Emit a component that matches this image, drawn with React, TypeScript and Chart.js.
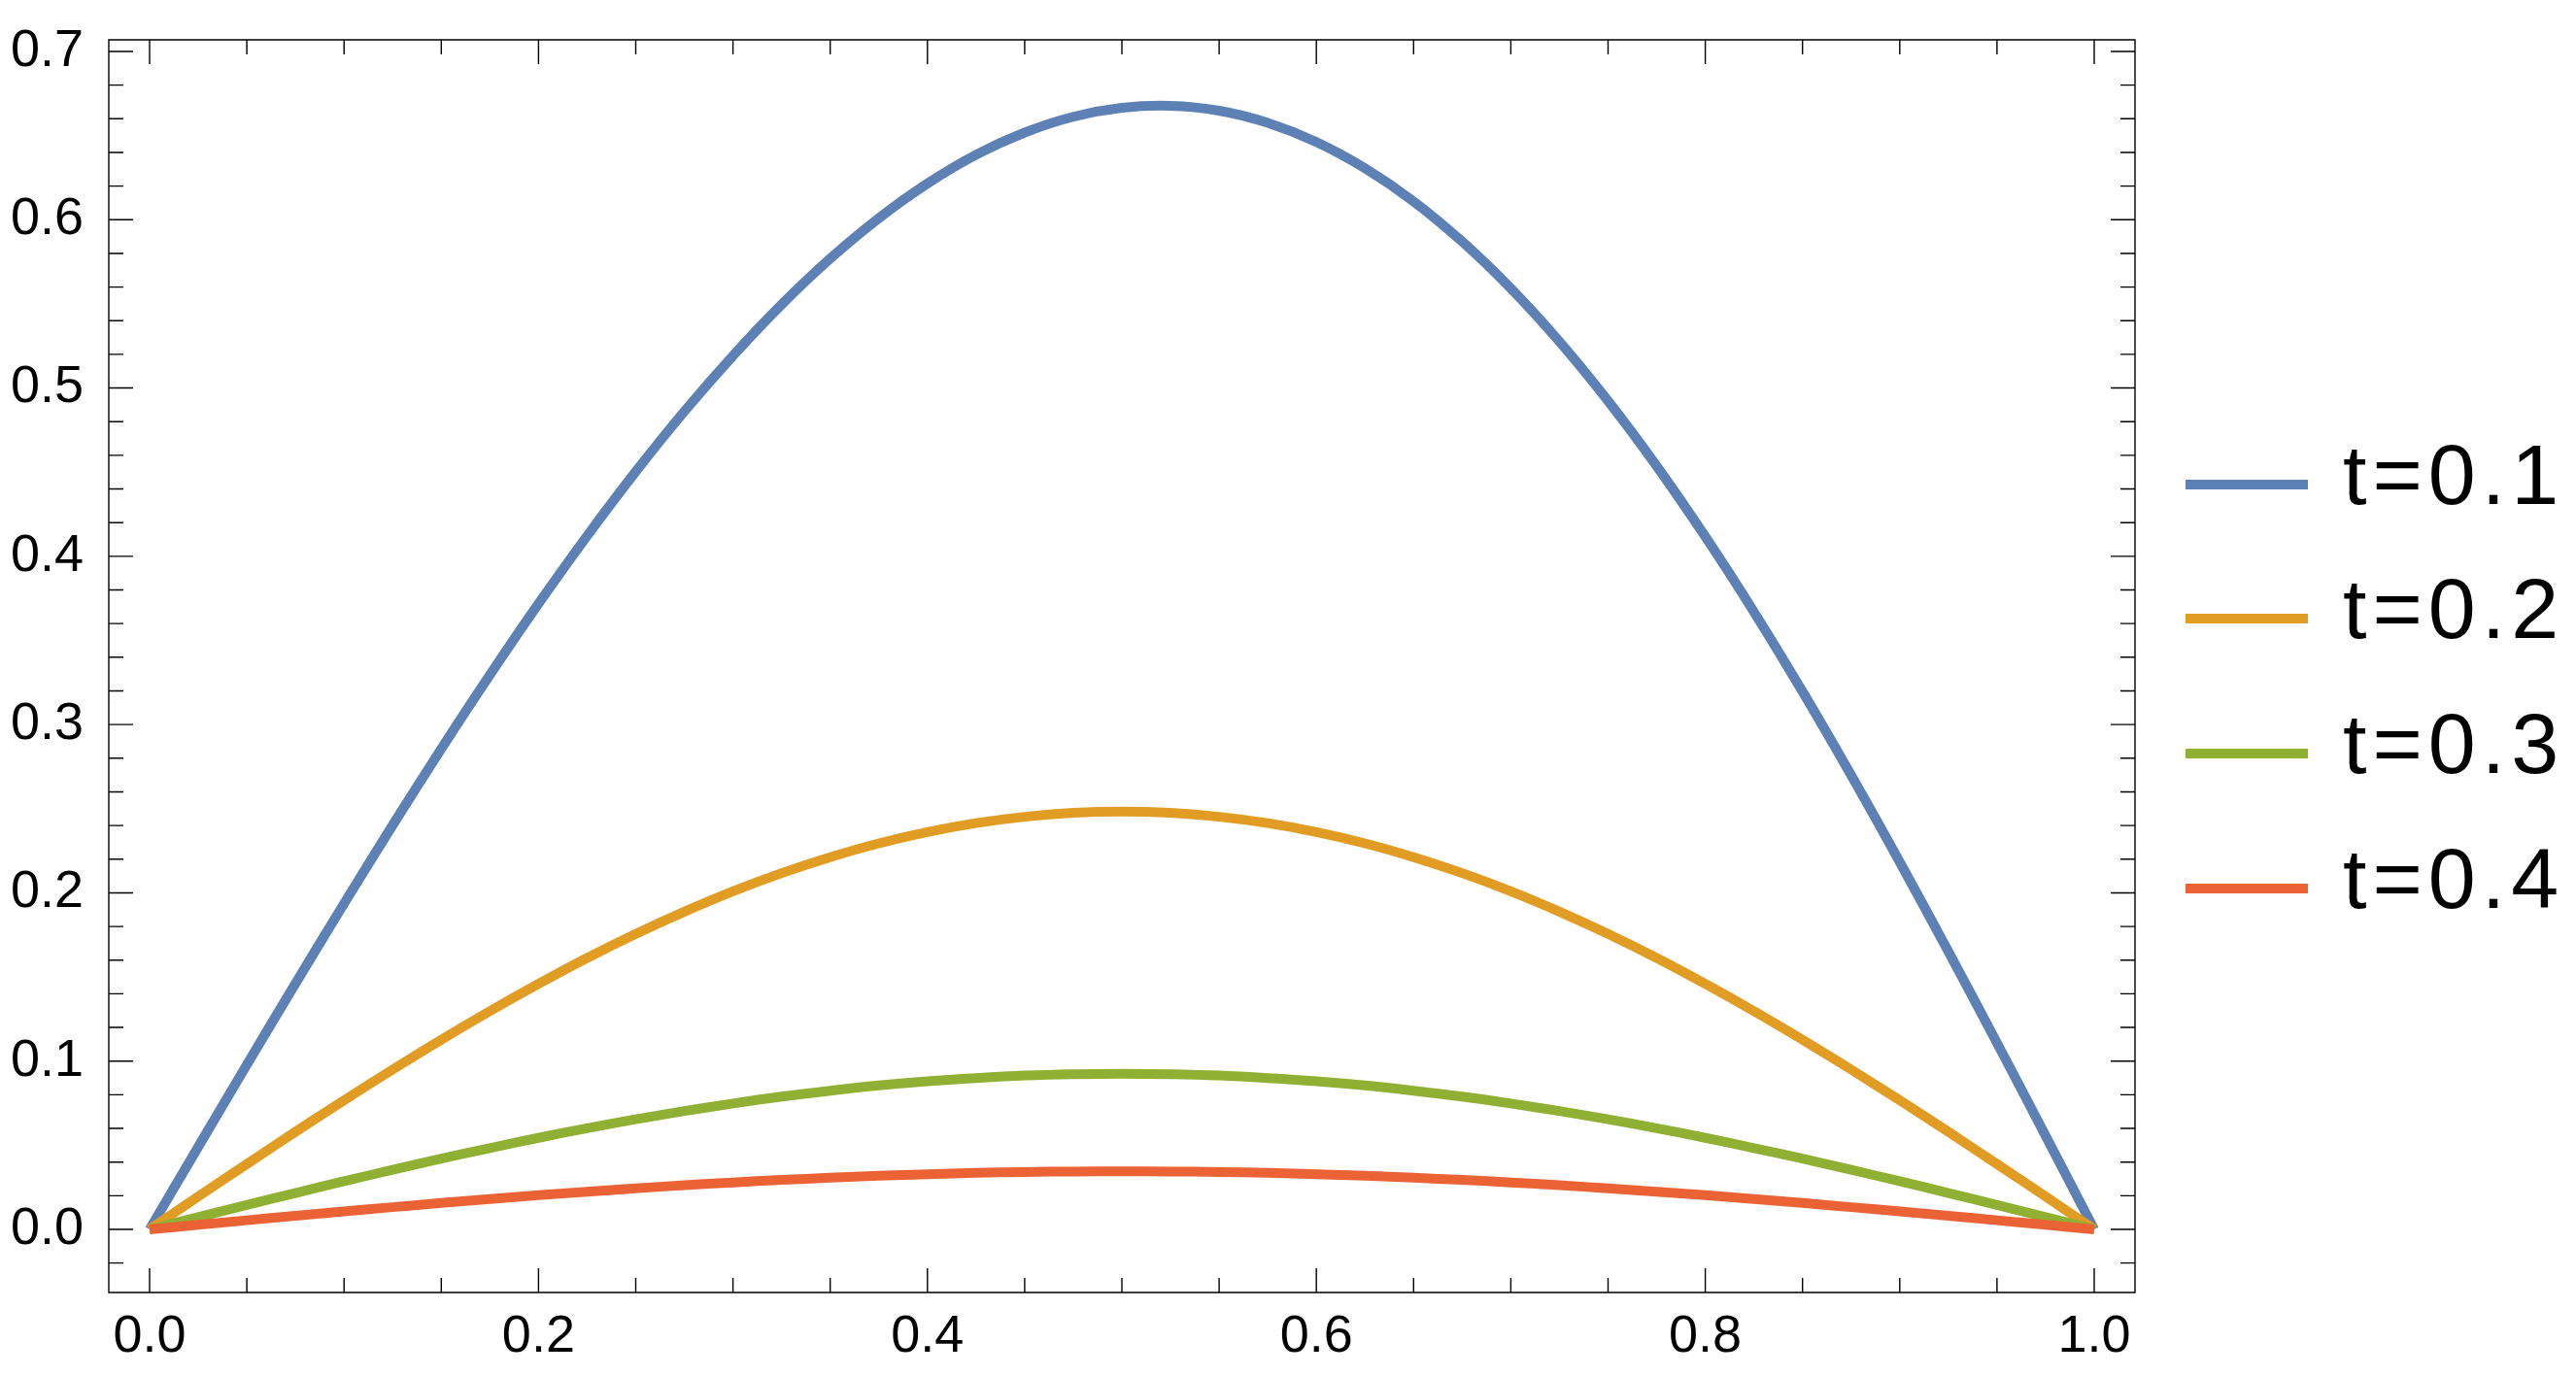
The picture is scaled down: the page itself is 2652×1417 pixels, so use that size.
import React, { useEffect, useRef } from 'react';
import { Chart, registerables } from 'chart.js';

Chart.register(...registerables);

const xValues = [
  0, 0.025, 0.05, 0.075, 0.1, 0.125, 0.15, 0.175, 0.2, 0.225, 0.25, 0.275, 0.3, 0.325, 0.35, 0.375, 0.4,
  0.425, 0.45, 0.475, 0.5, 0.525, 0.55, 0.575, 0.6, 0.625, 0.65, 0.675, 0.7, 0.725, 0.75, 0.775, 0.8,
  0.825, 0.85, 0.875, 0.9, 0.925, 0.95, 0.975, 1,
];

const seriesT01 = [
  0, 0.049, 0.0978, 0.1461, 0.1936, 0.2402, 0.2856, 0.3295, 0.3718, 0.4121, 0.4503, 0.4861, 0.5192,
  0.5496, 0.5769, 0.6009, 0.6215, 0.6386, 0.6518, 0.6612, 0.6665, 0.6677, 0.6648, 0.6576, 0.6462,
  0.6306, 0.6109, 0.587, 0.5592, 0.5276, 0.4923, 0.4536, 0.4117, 0.367, 0.3196, 0.2699, 0.2183,
  0.1651, 0.1108, 0.0556, 0,
];

const seriesT02 = [
  0, 0.0195, 0.0388, 0.058, 0.0767, 0.095, 0.1127, 0.1297, 0.1459, 0.1613, 0.1756, 0.1888, 0.2009,
  0.2117, 0.2212, 0.2294, 0.2361, 0.2414, 0.2452, 0.2475, 0.2483, 0.2475, 0.2452, 0.2414, 0.2361,
  0.2294, 0.2212, 0.2117, 0.2009, 0.1888, 0.1756, 0.1613, 0.1459, 0.1297, 0.1127, 0.095, 0.0767,
  0.058, 0.0388, 0.0195, 0,
];

const seriesT03 = [
  0, 0.0073, 0.0145, 0.0216, 0.0286, 0.0354, 0.042, 0.0483, 0.0544, 0.0601, 0.0654, 0.0703, 0.0748,
  0.0789, 0.0824, 0.0855, 0.088, 0.0899, 0.0914, 0.0922, 0.0925, 0.0922, 0.0914, 0.0899, 0.088,
  0.0855, 0.0824, 0.0789, 0.0748, 0.0703, 0.0654, 0.0601, 0.0544, 0.0483, 0.042, 0.0354, 0.0286,
  0.0216, 0.0145, 0.0073, 0,
];

const seriesT04 = [
  0, 0.0027, 0.0054, 0.0081, 0.0107, 0.0132, 0.0157, 0.018, 0.0203, 0.0224, 0.0244, 0.0262, 0.0279,
  0.0294, 0.0307, 0.0319, 0.0328, 0.0336, 0.0341, 0.0344, 0.0345, 0.0344, 0.0341, 0.0336, 0.0328,
  0.0319, 0.0307, 0.0294, 0.0279, 0.0262, 0.0244, 0.0224, 0.0203, 0.018, 0.0157, 0.0132, 0.0107,
  0.0081, 0.0054, 0.0027, 0,
];

const seriesLabels = ['t=0.1', 't=0.2', 't=0.3', 't=0.4'];
const seriesColors = ['#5E81B5', '#E19C24', '#8FB032', '#EB6235'];

const xMajorTicks = [0, 0.2, 0.4, 0.6, 0.8, 1.0];
const xMinorTicks = [0.05, 0.1, 0.15, 0.25, 0.3, 0.35, 0.45, 0.5, 0.55, 0.65, 0.7, 0.75, 0.85, 0.9, 0.95];
const yMajorTicks = [0, 0.1, 0.2, 0.3, 0.4, 0.5, 0.6, 0.7];
const yMinorTicks = [
  -0.02, 0.02, 0.04, 0.06, 0.08, 0.12, 0.14, 0.16, 0.18, 0.22, 0.24, 0.26, 0.28, 0.32, 0.34, 0.36,
  0.38, 0.42, 0.44, 0.46, 0.48, 0.52, 0.54, 0.56, 0.58, 0.62, 0.64, 0.66, 0.68,
];

const FONT = "'Liberation Sans', Arial, sans-serif";
const W = 2652;
const H = 1417;

const framePlugin = {
  id: 'mmaFrame',
  afterDatasetsDraw(chart: any) {
    const { ctx, chartArea } = chart;
    const xs = chart.scales.x;
    const ys = chart.scales.y;
    const { left, right, top, bottom } = chartArea;
    ctx.save();
    ctx.strokeStyle = '#000';
    ctx.lineWidth = 1.4;
    ctx.beginPath();
    ctx.rect(left, top, right - left, bottom - top);
    ctx.stroke();
    const major = 25;
    const minor = 15;
    ctx.beginPath();
    const xt = (v: number, len: number) => {
      const px = xs.getPixelForValue(v);
      ctx.moveTo(px, bottom);
      ctx.lineTo(px, bottom - len);
      ctx.moveTo(px, top);
      ctx.lineTo(px, top + len);
    };
    const yt = (v: number, len: number) => {
      const py = ys.getPixelForValue(v);
      ctx.moveTo(left, py);
      ctx.lineTo(left + len, py);
      ctx.moveTo(right, py);
      ctx.lineTo(right - len, py);
    };
    xMajorTicks.forEach((v) => xt(v, major));
    xMinorTicks.forEach((v) => xt(v, minor));
    yMajorTicks.forEach((v) => yt(v, major));
    yMinorTicks.forEach((v) => yt(v, minor));
    ctx.stroke();
    ctx.restore();
  },
};

const legendPlugin = {
  id: 'mmaLegend',
  afterDraw(chart: any) {
    const { ctx } = chart;
    const rows = [499, 637, 776, 915];
    ctx.save();
    chart.data.datasets.forEach((ds: any, i: number) => {
      const y = rows[i];
      ctx.strokeStyle = ds.borderColor;
      ctx.lineWidth = 10;
      ctx.beginPath();
      ctx.moveTo(2250, y);
      ctx.lineTo(2376, y);
      ctx.stroke();
      ctx.fillStyle = '#000';
      ctx.font = `88px ${FONT}`;
      try {
        (ctx as any).letterSpacing = '6px';
      } catch (e) {
        /* ignore */
      }
      ctx.textBaseline = 'middle';
      ctx.textAlign = 'left';
      ctx.fillText(ds.label, 2412, y - 4);
    });
    ctx.restore();
  },
};

export default function App() {
  const ref = useRef<HTMLCanvasElement | null>(null);

  useEffect(() => {
    if (!ref.current) return;
    const allSeries = [seriesT01, seriesT02, seriesT03, seriesT04];
    const chart = new Chart(ref.current, {
      type: 'line',
      data: {
        datasets: allSeries.map((s, i) => ({
          label: seriesLabels[i],
          data: xValues.map((x, j) => ({ x, y: s[j] })),
          borderColor: seriesColors[i],
          backgroundColor: seriesColors[i],
          borderWidth: 10,
          pointRadius: 0,
          tension: 0.35,
          fill: false,
          order: 4 - i,
          borderJoinStyle: 'round' as const,
        })),
      },
      options: {
        responsive: false,
        animation: false,
        devicePixelRatio: 1,
        layout: { autoPadding: false, padding: { left: 0, top: 41, right: 454, bottom: 0 } },
        plugins: { legend: { display: false }, tooltip: { enabled: false } },
        scales: {
          x: {
            type: 'linear',
            min: -0.02098,
            max: 1.02098,
            afterBuildTicks: (s: any) => {
              s.ticks = xMajorTicks.map((v) => ({ value: v }));
            },
            afterFit: (s: any) => {
              s.height = 86;
              s.paddingLeft = 0;
              s.paddingRight = 0;
              s.paddingTop = 0;
              s.paddingBottom = 0;
            },
            grid: { display: false },
            border: { display: false },
            ticks: {
              autoSkip: false,
              maxRotation: 0,
              padding: 6,
              color: '#000',
              font: { family: FONT, size: 54 },
              callback: (v: any) => Number(v).toFixed(1),
            },
          },
          y: {
            type: 'linear',
            min: -0.03751,
            max: 0.70692,
            afterBuildTicks: (s: any) => {
              s.ticks = yMajorTicks.map((v) => ({ value: v }));
            },
            afterFit: (s: any) => {
              s.width = 112;
              s.paddingTop = 0;
              s.paddingBottom = 0;
              s.paddingLeft = 0;
              s.paddingRight = 0;
            },
            grid: { display: false },
            border: { display: false },
            ticks: {
              autoSkip: false,
              padding: 18,
              color: '#000',
              font: { family: FONT, size: 54 },
              callback: (v: any) => Number(v).toFixed(1),
            },
          },
        },
      },
      plugins: [framePlugin, legendPlugin],
    });
    return () => chart.destroy();
  }, []);

  return (
    <div style={{ position: 'fixed', left: 0, top: 0, width: W, height: H, background: '#fff' }}>
      <canvas ref={ref} width={W} height={H} style={{ width: W, height: H, display: 'block' }} />
    </div>
  );
}
